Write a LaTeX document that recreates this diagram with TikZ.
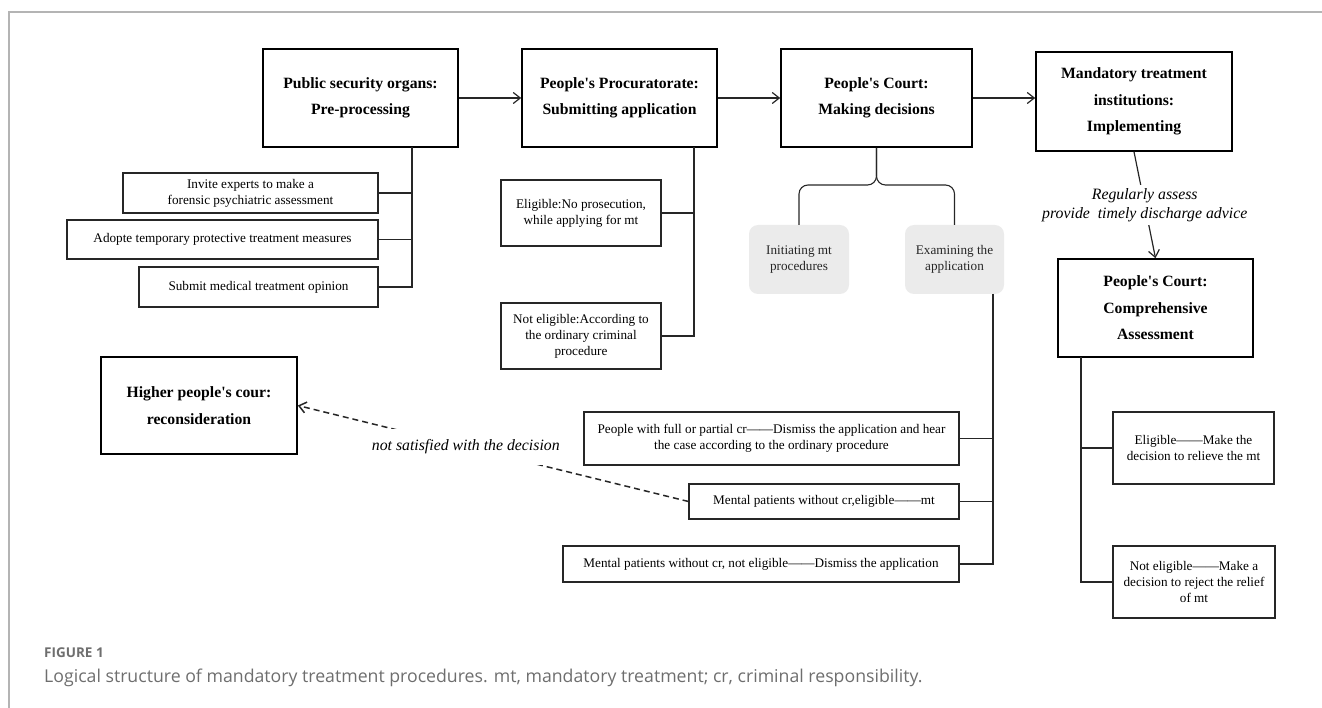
\documentclass[tikz,border=0pt]{standalone}
\usepackage{fontspec}
\setmainfont{Liberation Serif}[Ligatures=TeXOff]
\newfontfamily\capfont{Open Sans}
\usetikzlibrary{arrows.meta}
\definecolor{ink}{HTML}{262626}
\definecolor{chip}{HTML}{EBEBEB}
\definecolor{capgray}{HTML}{6E6E6E}
\definecolor{rule}{HTML}{B4B4B4}
\tikzset{
  % A stage of the procedure: bold title, heavy frame
  stage/.style={
    draw=black, line width=1.6pt, fill=white, align=center, inner sep=2pt,
    font=\bfseries\fontsize{15.7}{26.5}\selectfont,
    minimum width=#1, minimum height=98pt},
  % A measure or outcome box
  item/.style={
    draw=ink, line width=1.1pt, fill=white, align=center, inner sep=2pt,
    font=\fontsize{13.2}{16}\selectfont, minimum width=#1},
  % A grey sub-task of the court
  task/.style={
    draw=none, fill=chip, rounded corners=9pt, align=center, text=ink,
    font=\fontsize{13.2}{15.5}\selectfont,
    minimum width=#1, minimum height=69pt},
  % Connectors
  link/.style={draw=ink, line width=1.1pt},
  flow/.style={-{Straight Barb[length=7pt,width=11pt]}, draw=ink, line width=1.2pt},
  appeal/.style={-{Straight Barb[length=7pt,width=11pt]}, draw=ink, line width=1.5pt,
    dash pattern=on 6pt off 4pt},
  note/.style={font=\itshape\fontsize{15.8}{19}\selectfont, fill=white, align=center,
    inner sep=3pt},
  capt/.style={anchor=base west, inner sep=0pt, text=capgray},
}
\newcommand{\stub}[2]{%
  \draw[link] (#1 |- #2.east) -- (#2.east);}

\begin{document}
\begin{tikzpicture}[x=1pt, y=-1pt]

  \useasboundingbox (0,0) rectangle (1322,708);
  \draw[rule, line width=1.5pt] (9,708) -- (9,12) -- (1322,12);

  \node[stage=195pt] (pso) at (360.5,98) {Public security organs:\\Pre-processing};
  \node[stage=195pt] (proc) at (619.5,98) {People's Procuratorate:\\Submitting application};
  \node[stage=191pt] (court) at (876.5,98) {People's Court:\\Making decisions};
  \node[stage=196pt, minimum height=99pt] (inst) at (1134,101.5)
    {Mandatory treatment\\institutions:\\Implementing};
  \node[stage=195pt] (compr) at (1155.5,308) {People's Court:\\Comprehensive\\Assessment};
  \node[stage=196pt, minimum height=97pt] (higher) at (199,405.5)
    {Higher people's cour:\\reconsideration};

  \draw[flow] (pso) -- (proc);
  \draw[flow] (proc) -- (court);
  \draw[flow] (court.east) -- (court.east -| inst.west);
  \draw[flow] (inst.south) -- node[note]{Regularly assess\\provide\ \ timely discharge advice}
    (compr.north);

  % public security organs
  \node[item=255pt, minimum height=40pt] (invite) at (250.5,193)
    {Invite experts to make a\\forensic psychiatric assessment};
  \node[item=311pt, minimum height=39pt] (adopte) at (222.5,239.5)
    {Adopte temporary protective treatment measures};
  \node[item=239pt, minimum height=40pt] (submit) at (258.5,287)
    {Submit medical treatment opinion};
  \coordinate (t1) at (412,147);
  \draw[link] (t1) |- (submit.east);
  \stub{t1}{invite}
  \stub{t1}{adopte}

  % procuratorate
  \node[item=160pt, minimum height=66pt] (elig) at (581,213)
    {Eligible:No prosecution,\\while applying for mt};
  \node[item=160pt, minimum height=66pt] (noelig) at (581,336)
    {Not eligible:According to\\the ordinary criminal\\procedure};
  \coordinate (t2) at (694,147);
  \draw[link] (t2) |- (noelig.east);
  \stub{t2}{elig}

  % court
  \node[task=100pt] (init) at (799,259.5) {Initiating mt\\procedures};
  \node[task=99pt] (exam) at (954.5,259.5) {Examining the\\application};
  \coordinate (fork) at (876.5,185);
  \draw[link, rounded corners=9pt] (court.south) -- (fork) -| (init.north);
  \draw[link, rounded corners=9pt] (court.south) -- (fork) -| (exam.north);

  \node[item=375pt, minimum height=53pt] (pwith) at (771.5,438.5)
    {People with full or partial cr——Dismiss the application and hear\\the case according to the ordinary procedure};
  \node[item=270pt, minimum height=35pt] (mel) at (824,501.5)
    {Mental patients without cr,eligible——mt};
  \node[item=396pt, minimum height=36pt] (mnot) at (761,564)
    {Mental patients without cr, not eligible——Dismiss the application};
  \coordinate (t3) at (993,294);
  \draw[link] (t3) |- (mnot.east);
  \stub{t3}{pwith}
  \stub{t3}{mel}

  \draw[appeal] (mel.west) -- node[note, pos=0.57, inner xsep=1pt, inner ysep=11pt]
    {not satisfied with the decision} (higher.east);

  % comprehensive assessment
  \node[item=161pt, minimum height=72pt] (rel) at (1193.5,448)
    {Eligible——Make the\\decision to relieve the mt};
  \node[item=162pt, minimum height=72pt] (rej) at (1194,582)
    {Not eligible——Make a\\decision to reject the relief\\of mt};
  \coordinate (t4) at (1081,357);
  \draw[link] (t4) |- (rej.west);
  \draw[link] (t4 |- rel.west) -- (rel.west);

  \node[capt, font=\capfont\bfseries\fontsize{13.5}{13.5}\selectfont] (fig) at (44,657)
    {FIGURE 1};
  \node[capt, font=\capfont\fontsize{17.7}{20}\selectfont] (cap) at (44,682)
    {Logical structure of mandatory treatment procedures. mt, mandatory treatment; cr, criminal responsibility.};

\end{tikzpicture}
\end{document}
